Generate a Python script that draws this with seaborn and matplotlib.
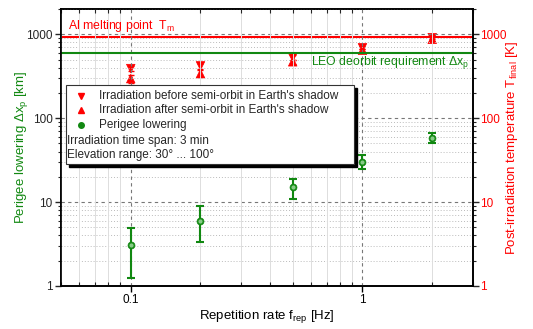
import matplotlib
matplotlib.use("Agg")
import matplotlib.pyplot as plt
import seaborn as sns
import numpy as np
import pandas as pd
from matplotlib.ticker import LogLocator, NullFormatter, FixedLocator, FixedFormatter
from matplotlib.patches import Rectangle

sns.set_theme(style="white")
plt.rcParams['font.family'] = ['Liberation Sans', 'DejaVu Sans']
plt.rcParams['mathtext.fontset'] = 'custom'
plt.rcParams['mathtext.rm'] = 'Liberation Sans'
plt.rcParams['mathtext.it'] = 'Liberation Sans'
plt.rcParams['mathtext.bf'] = 'Liberation Sans:bold'

# ---- data ----
freq = [0.1, 0.2, 0.5, 1.0, 2.0]
perigee = [3.1, 6.0, 15.0, 30.0, 58.0]
perigee_lo = [1.25, 3.3, 11.0, 24.5, 51.0]
perigee_hi = [4.9, 8.9, 19.0, 36.0, 66.0]
temp_before = [390, 420, 530, 690, 910]
temp_after = [296, 340, 470, 645, 870]
temp_err = [30, 30, 30, 30, 40]
al_melting = 933
leo_requirement = 600

GREEN = "#118811"
RED = "#ff0000"

fig = plt.figure(figsize=(5.33, 3.29), dpi=100)
ax = fig.add_axes([61/533, 43/329, 412/533, 277/329])
ax2 = ax.twinx()

for a in (ax, ax2):
    a.set_xscale("log")
    a.set_yscale("log")
    a.set_xlim(0.05, 3)
    a.set_ylim(1, 2000)

# grid
ax.grid(False)
for v in [1, 10, 100, 1000]:
    ax.axhline(v, color="#777777", ls=(0, (3, 3)), lw=0.8, zorder=0)
for d in [1, 10, 100, 1000]:
    for m in range(2, 10):
        if d * m <= 2000:
            ax.axhline(d * m, color="#bbbbbb", ls=(0, (1, 2)), lw=0.7, zorder=0)
for v in [0.1, 1]:
    ax.axvline(v, color="#777777", ls=(0, (3, 3)), lw=0.8, zorder=0)
for v in [0.05, 0.06, 0.07, 0.08, 0.09, 0.2, 0.3, 0.4, 0.5, 0.6, 0.7, 0.8, 0.9, 2, 3]:
    ax.axvline(v, color="#dddddd", ls="-", lw=0.7, zorder=0)

# reference lines
ax2.axhline(al_melting, color=RED, lw=1.5, zorder=2)
ax.axhline(leo_requirement, color=GREEN, lw=1.5, zorder=2)

# perigee lowering
df_p = pd.DataFrame({"f": freq, "dx": perigee})
yerr = [np.array(perigee) - np.array(perigee_lo), np.array(perigee_hi) - np.array(perigee)]
ax.errorbar(freq, perigee, yerr=yerr, fmt="none", ecolor=GREEN, elinewidth=1.5,
            capsize=3, capthick=1.5, zorder=3)
sns.scatterplot(data=df_p, x="f", y="dx", ax=ax, color=GREEN, marker="o", s=25,
                edgecolor=GREEN, linewidth=0.5, zorder=4, legend=False)
ax.plot(freq, perigee, "o", ms=2, color="#88cc88", zorder=5)

# temperatures
df_t = pd.DataFrame({"f": freq + freq,
                     "T": temp_before + temp_after,
                     "kind": ["before"] * 5 + ["after"] * 5})
ax2.errorbar(freq, temp_before, yerr=temp_err, fmt="none", ecolor=RED, elinewidth=1,
             capsize=2.5, capthick=1, zorder=3)
ax2.errorbar(freq, temp_after, yerr=temp_err, fmt="none", ecolor=RED, elinewidth=1,
             capsize=2.5, capthick=1, zorder=3)
sns.scatterplot(data=df_t, x="f", y="T", style="kind", markers={"before": "v", "after": "^"},
                ax=ax2, color=RED, edgecolor=RED, s=38, linewidth=0.5, zorder=4, legend=False)

# ticks
ax.xaxis.set_major_locator(FixedLocator([0.1, 1]))
ax.xaxis.set_major_formatter(FixedFormatter(["0.1", "1"]))
ax.xaxis.set_minor_locator(LogLocator(base=10, subs=np.arange(2, 10)))
ax.xaxis.set_minor_formatter(NullFormatter())
ax.yaxis.set_major_locator(FixedLocator([1, 10, 100, 1000]))
ax.yaxis.set_major_formatter(FixedFormatter(["1", "10", "100", "1000"]))
ax.yaxis.set_minor_locator(LogLocator(base=10, subs=np.arange(2, 10)))
ax.yaxis.set_minor_formatter(NullFormatter())
ax2.yaxis.set_major_locator(FixedLocator([1, 10, 100, 1000]))
ax2.yaxis.set_major_formatter(FixedFormatter(["1", "10", "100", "1000"]))
ax2.yaxis.set_minor_locator(LogLocator(base=10, subs=np.arange(2, 10)))
ax2.yaxis.set_minor_formatter(NullFormatter())

ax.tick_params(axis="x", which="major", direction="out", length=4, width=1, labelsize=8.5,
               top=False, bottom=True, pad=2, colors="black")
ax.tick_params(axis="x", which="minor", direction="in", length=3, width=0.8, top=True, bottom=True)
ax.tick_params(axis="y", which="major", direction="out", length=4, width=1, labelsize=8.5, pad=2)
ax.tick_params(axis="y", which="minor", direction="out", length=2, width=0.8)
ax2.tick_params(axis="y", which="major", direction="out", length=4, width=1, labelsize=8.5,
                labelcolor=RED, pad=1)
ax2.tick_params(axis="y", which="minor", direction="out", length=2, width=0.8)

for a in (ax, ax2):
    for s in a.spines.values():
        s.set_color("black")
        s.set_linewidth(1.2)

ax.set_xlabel(r"Repetition rate f$_{\mathregular{rep}}$ [Hz]", fontsize=9.5, color="black", labelpad=1)
ax.set_ylabel(r"Perigee lowering $\Delta$x$_{\mathregular{p}}$ [km]", fontsize=9.5, color=GREEN, labelpad=-3)
ax2.set_ylabel(r"Post-irradiation temperature T$_{\mathregular{final}}$ [K]", fontsize=9.5,
               color=RED, labelpad=-2)

# annotations
ax.text(0.05 * 1.07, 1250, r"Al melting point  T$_{\mathregular{m}}$", color=RED, fontsize=8.8,
        va="center", ha="left", zorder=6)
ax.text(2.9, 455, r"LEO deorbit requirement $\Delta$x$_{\mathregular{p}}$", color=GREEN,
        fontsize=8.8, va="center", ha="right", zorder=6)

# legend box (manual, with shadow)
bx0, by0, bw, bh = 0.012, 0.440, 0.699, 0.286
shadow = Rectangle((bx0 + 0.008, by0 - 0.012), bw, bh, transform=ax.transAxes,
                   facecolor="black", edgecolor="black", zorder=7, clip_on=False)
box = Rectangle((bx0, by0), bw, bh, transform=ax.transAxes, facecolor="white",
                edgecolor="#333333", lw=0.8, zorder=8, clip_on=False)
ax.add_patch(shadow)
ax.add_patch(box)

def axy(py):
    return (286 - py) / 277.0
def axx(px):
    return (px - 61) / 412.0

rows = [
    ("v", RED, 5, "Irradiation before semi-orbit in Earth's shadow", 95.5),
    ("^", RED, 5, "Irradiation after semi-orbit in Earth's shadow", 110),
    ("o", GREEN, 4, "Perigee lowering", 125),
]
for mk, col, ms, label, py in rows:
    ax.plot([axx(81)], [axy(py)], marker=mk, color=col, ms=ms, transform=ax.transAxes,
            zorder=9, clip_on=False, ls="none")
    ax.text(axx(99), axy(py), label, transform=ax.transAxes, fontsize=8.5, va="center",
            ha="left", zorder=9)
ax.text(axx(67), axy(140.5), "Irradiation time span: 3 min", transform=ax.transAxes,
        fontsize=8.5, va="center", ha="left", zorder=9)
ax.text(axx(67), axy(155), "Elevation range: 30\u00b0 ... 100\u00b0", transform=ax.transAxes,
        fontsize=8.5, va="center", ha="left", zorder=9)

ax.set_zorder(ax2.get_zorder() + 1)
ax.patch.set_visible(False)

fig.savefig("out.png", dpi=100)
